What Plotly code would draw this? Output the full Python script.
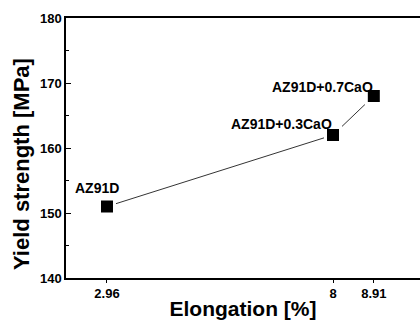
import plotly.graph_objects as go

labels = ["AZ91D", "AZ91D+0.3CaO", "AZ91D+0.7CaO"]
elongation = [2.96, 8.0, 8.91]
yield_strength = [151, 162, 168]
x_tickvals = [2.96, 8, 8.91]
x_ticktext = ["2.96", "8", "8.91"]
y_tickvals = [140, 150, 160, 170, 180]

FONT = "Liberation Sans, Arial, sans-serif"

fig = go.Figure()
fig.add_trace(go.Scatter(
    x=elongation, y=yield_strength, mode="lines+markers",
    line=dict(color="black", width=0.8),
    marker=dict(symbol="square", size=15, color="black",
                line=dict(color="white", width=3)),
    showlegend=False, hoverinfo="skip",
))

# label placement (offsets in px)
shifts = [(-10, 19, "center"), (1, 11, "right"), (1, 9, "right")]
for lab, xv, yv, (xs, ys, anc) in zip(labels, elongation, yield_strength, shifts):
    fig.add_annotation(x=xv, y=yv, text="<b>%s</b>" % lab, showarrow=False,
                       xanchor=anc, yanchor="middle", xshift=xs, yshift=ys,
                       font=dict(family=FONT, size=14, color="black"))

# y-axis title (placed as annotation, sits lower than plot centre in the original)
fig.add_annotation(xref="paper", yref="paper", x=0, y=0.4385, xshift=-44,
                   text="<b>Yield strength [MPa]</b>", textangle=-90, showarrow=False,
                   xanchor="center", yanchor="middle",
                   font=dict(family=FONT, size=22, color="black"))

fig.update_layout(
    width=420, height=320,
    margin=dict(l=66, r=0, t=18, b=42),
    paper_bgcolor="white", plot_bgcolor="white",
    font=dict(family=FONT, color="black"),
    xaxis=dict(
        range=[2.046, 9.94], tickvals=x_tickvals, ticktext=["<b>%s</b>" % t for t in x_ticktext],
        showgrid=False, zeroline=False, showline=True, linecolor="black", linewidth=1.5,
        mirror=True, ticks="outside", ticklen=3, tickcolor="black", automargin=False,
        tickfont=dict(family=FONT, size=13, color="black"),
        title=dict(text="<b>Elongation [%]</b>", font=dict(family=FONT, size=21, color="black"), standoff=3),
    ),
    yaxis=dict(
        range=[140, 180], tickvals=y_tickvals, ticktext=["<b>%d</b>" % v for v in y_tickvals],
        showgrid=False, zeroline=False, showline=True, linecolor="black", linewidth=1.5,
        ticks="inside", ticklen=5, tickcolor="black", automargin=False,
        minor=dict(dtick=5, ticks="inside", ticklen=3, tickcolor="black"),
        tickfont=dict(family=FONT, size=13, color="black"),
    ),
)

fig.write_html("out.html", config={"displayModeBar": False},
               post_script="document.body.style.margin='0';document.body.style.overflow='hidden';")
